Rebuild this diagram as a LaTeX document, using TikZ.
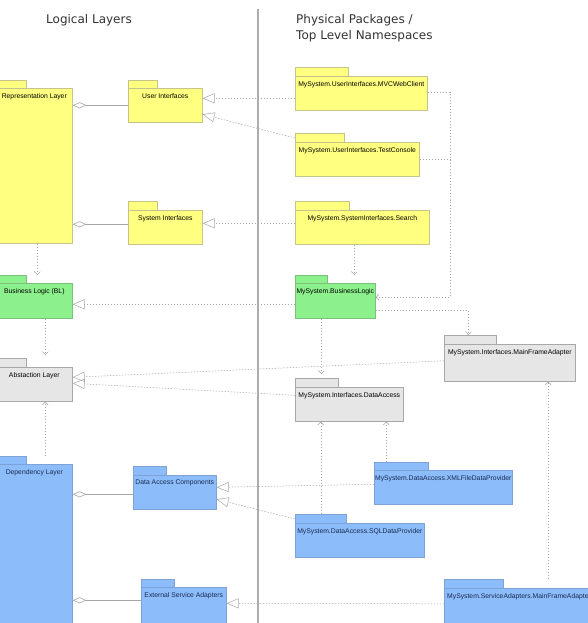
\documentclass[tikz,border=0pt]{standalone}
\usepackage{fontspec}
\setmainfont{DejaVu Sans}
\newfontfamily\boxfont{Liberation Sans}
\usetikzlibrary{arrows.meta}
\definecolor{yfill}{HTML}{FFFF80}
\definecolor{yline}{HTML}{C4C48C}
\definecolor{gfill}{HTML}{8CF08C}
\definecolor{gline}{HTML}{7CC07C}
\definecolor{afill}{HTML}{E6E6E6}
\definecolor{aline}{HTML}{A8A8A8}
\definecolor{bfill}{HTML}{8CBDFA}
\definecolor{bline}{HTML}{7FA2D4}
\definecolor{conn}{HTML}{A6A6A6}
\definecolor{btext}{HTML}{1A2A50}
\tikzset{
  yel/.style={fill=yfill,draw=yline},
  grn/.style={fill=gfill,draw=gline},
  gry/.style={fill=afill,draw=aline},
  blu/.style={fill=bfill,draw=bline},
  pkglabel/.style={font=\boxfont\fontsize{6.8}{7}\selectfont,inner sep=0pt,anchor=north},
  agg/.style={draw=conn,line width=0.6pt,{Diamond[open,length=14pt,width=6pt]}-},
  real/.style={draw=conn,line width=0.5pt,dash pattern=on 1.5pt off 1.5pt,-{Triangle[open,length=12pt,width=10pt]}},
  dep/.style={draw=conn,line width=0.5pt,dash pattern=on 1.5pt off 1.5pt,-{Straight Barb[length=3pt,width=6pt]}},
  depline/.style={draw=conn,line width=0.5pt,dash pattern=on 1.5pt off 1.5pt},
  title/.style={font=\fontsize{12}{16}\selectfont,text=black!80,inner sep=0pt}
}
% #1 name, #2 style, #3 x1, #4 tab right, #5 tab top, #6 body top, #7 right, #8 bottom, #9 label
\newcommand\pkgbox[9]{%
  \node[#2,line width=0.6pt,anchor=north west,inner sep=0pt,minimum width={(#4)*1pt-(#3)*1pt},minimum height={(#6)*1pt-(#5)*1pt}] (#1-tab) at (#3,#5) {};
  \node[#2,line width=0.6pt,anchor=north west,inner sep=0pt,minimum width={(#7)*1pt-(#3)*1pt},minimum height={(#8)*1pt-(#6)*1pt}] (#1) at (#3,#6) {};
  \node[pkglabel] (#1-label) at ([yshift=-5pt]#1.north) {#9};
}
\begin{document}
\begin{tikzpicture}[x=1pt,y=-1pt]
\useasboundingbox (0,0) rectangle (588,623);
\clip (0,0) rectangle (588,623);
\fill[white] (0,0) rectangle (588,623);

% titles and separator
\node[title,anchor=base] (t1) at (89,24) {Logical Layers};
\node[title,anchor=north west,align=left] (t2) at (296,14.5) {Physical Packages /\\Top Level Namespaces};
\draw[line width=2.6pt,draw=black!32] (258,9) -- (258,630);

% logical layers
\pkgbox{rep}{yel}{-4}{26}{80}{88}{72}{243}{Representation Layer}
\pkgbox{ui}{yel}{128}{157}{80}{88}{202}{122}{User Interfaces}
\pkgbox{si}{yel}{128}{157}{201}{210}{202}{244}{System Interfaces}
\pkgbox{bl}{grn}{-4}{26}{275}{283}{72}{318}{Business Logic (BL)}
\pkgbox{abs}{gry}{-4}{26}{358}{367}{72}{401}{Abstaction Layer}
\pkgbox{dep}{blu}{-4}{26}{456}{464}{72}{627}{\textcolor{btext}{Dependency Layer}}
\pkgbox{dac}{blu}{133}{166}{466}{475}{216}{509}{\textcolor{btext}{Data Access Components}}
\pkgbox{esa}{blu}{141}{174}{579}{587}{226}{627}{\textcolor{btext}{External Service Adapters}}

% physical packages
\pkgbox{mvc}{yel}{295}{348}{67}{76}{427}{110}{MySystem.UserInterfaces.MVCWebClient}
\pkgbox{tc}{yel}{295}{344}{133}{142}{419}{176}{MySystem.UserInterfaces.TestConsole}
\pkgbox{search}{yel}{295}{349}{201}{210}{429}{244}{MySystem.SystemInterfaces.Search}
\pkgbox{blp}{grn}{295}{327}{275}{283}{375}{318}{MySystem.BusinessLogic}
\pkgbox{mfaif}{gry}{444}{496}{335}{344}{575}{381}{MySystem.Interfaces.MainFrameAdapter}
\pkgbox{da}{gry}{295}{338}{378}{387}{403}{421}{MySystem.Interfaces.DataAccess}
\pkgbox{xml}{blu}{374}{428}{462}{470}{512}{504}{\textcolor{btext}{MySystem.DataAccess.XMLFileDataProvider}}
\pkgbox{sql}{blu}{295}{346}{514}{523}{424}{557}{\textcolor{btext}{MySystem.DataAccess.SQLDataProvider}}
\pkgbox{samfa}{blu}{444}{503}{579}{588}{600}{627}{}
\node[pkglabel,anchor=north west] (samfa-text) at ([xshift=3pt,yshift=-5pt]samfa.north west) {\textcolor{btext}{MySystem.ServiceAdapters.MainFrameAdapter}};

% aggregations
\draw[agg] (rep.east |- ui.west) -- (ui.west);
\draw[agg] ([yshift=3pt]si.west -| rep.east) -- ([yshift=3pt]si.west);
\draw[agg] ([yshift=-2pt]dac.west -| dep.east) -- ([yshift=-2pt]dac.west);
\draw[agg] ([yshift=7pt]esa.west -| dep.east) -- ([yshift=7pt]esa.west);

% realizations
\draw[real] ([yshift=-5pt]mvc.west) -- ([yshift=7pt]ui.east);
\draw[real] ([yshift=4pt]tc.north west) -- ([yshift=-9pt]ui.east);
\draw[real] ([yshift=4pt]search.west) -- ([yshift=4pt]si.east);
\draw[real] ([yshift=-3.5pt]blp.west) -- ([yshift=-3.5pt]bl.east);
\draw[real] ([yshift=2pt]mfaif.west) -- ([yshift=7pt]abs.east);
\draw[real] ([yshift=9pt]da.west) -- ([yshift=1pt]abs.east);
\draw[real] ([yshift=3pt]xml.west) -- ([yshift=5pt]dac.east);
\draw[real] ([yshift=4pt]sql.north west) -- ([yshift=-7pt]dac.east);
\draw[real] ([yshift=4pt]samfa.west) -- ([yshift=4pt]esa.east);

% dependencies
\coordinate (rail) at (450,200);
\draw[dep] ([xshift=3pt]rep.south) -- ([xshift=3pt]rep.south |- bl-tab.north);
\draw[dep] ([xshift=11pt]bl.south) -- ([xshift=11pt,yshift=3pt]bl.south |- abs-tab.north);
\draw[dep] ([xshift=11pt]abs.south |- dep-tab.north) -- ([xshift=11pt]abs.south);
\draw[dep] ([xshift=-8pt]search.south) -- ([xshift=-8pt]search.south |- blp-tab.north);
\draw[dep] ([yshift=1pt]mvc.east) -| (rail) |- ([yshift=3.5pt]blp.east);
\draw[depline] (tc.east) -- (rail |- tc.east);
\draw[dep] ([xshift=-14pt]blp.south) -- ([xshift=-14pt,yshift=4pt]blp.south |- da-tab.north);
\draw[dep] ([yshift=-9.5pt]blp.east) -| ([xshift=-2pt]mfaif-tab.north);
\draw[dep] (sql-tab.north) -- (sql-tab.north |- da.south);
\draw[dep] ([xshift=-15pt]xml-tab.north) -- ([xshift=-15pt]xml-tab.north |- da.south);
\draw[dep] ([xshift=38.5pt]mfaif.south |- samfa-tab.north) -- ([xshift=38.5pt]mfaif.south);
\end{tikzpicture}
\end{document}
